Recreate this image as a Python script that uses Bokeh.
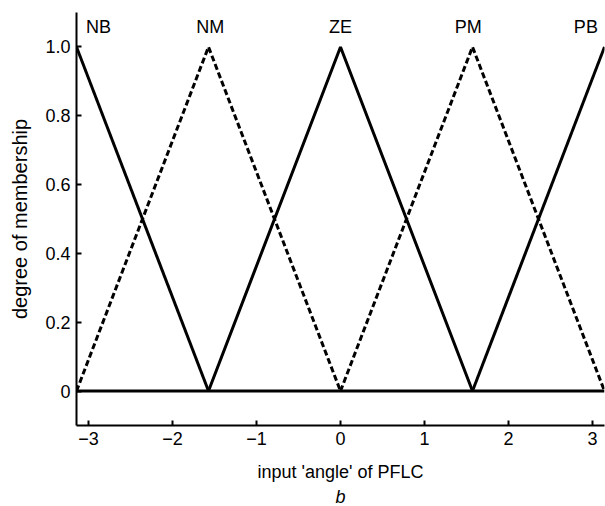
from bokeh.plotting import figure
from bokeh.models import Label, Range1d, FixedTicker, Title
from bokeh.embed import file_html
from bokeh.resources import INLINE

# membership function breakpoints (x) and degrees (y)
nb_x = [-3.1416, -1.5708]
nb_y = [1.0, 0.0]
nm_x = [-3.1416, -1.5708, 0.0]
nm_y = [0.0, 1.0, 0.0]
ze_x = [-1.5708, 0.0, 1.5708]
ze_y = [0.0, 1.0, 0.0]
pm_x = [0.0, 1.5708, 3.1416]
pm_y = [0.0, 1.0, 0.0]
pb_x = [1.5708, 3.1416]
pb_y = [0.0, 1.0]
base_x = [-3.1416, 3.1416]
base_y = [0.0, 0.0]

set_names = ["NB", "NM", "ZE", "PM", "PB"]
name_x = [-2.88, -1.55, 0.0, 1.52, 2.92]
name_y = 1.058

x_ticks = [-3, -2, -1, 0, 1, 2, 3]
x_tick_labels = ["\u22123", "\u22122", "\u22121", "0", "1", "2", "3"]
y_ticks = [0, 0.2, 0.4, 0.6, 0.8, 1.0]
y_tick_labels = ["0", "0.2", "0.4", "0.6", "0.8", "1.0"]

FONT = "Liberation Sans"
FS = "18px"

p = figure(width=605, height=506, output_backend="svg", toolbar_location=None,
           x_range=Range1d(-3.1416, 3.1416), y_range=Range1d(-0.1, 1.1),
           min_border_left=76, min_border_right=1, min_border_top=12,
           min_border_bottom=0)
p.outline_line_color = None
p.xgrid.visible = False
p.ygrid.visible = False

lw = 3
p.line(base_x, base_y, line_color="black", line_width=lw)
p.line(nb_x, nb_y, line_color="black", line_width=lw)
p.line(ze_x, ze_y, line_color="black", line_width=lw)
p.line(pb_x, pb_y, line_color="black", line_width=lw)
p.line(nm_x, nm_y, line_color="black", line_width=lw, line_dash="6 3")
p.line(pm_x, pm_y, line_color="black", line_width=lw, line_dash="6 3")

for nm, xx in zip(set_names, name_x):
    p.add_layout(Label(x=xx, y=name_y, text=nm, text_align="center",
                       text_baseline="middle", text_font=FONT,
                       text_font_size=FS, text_color="black"))

for ax in (p.xaxis[0], p.yaxis[0]):
    ax.axis_line_width = 2
    ax.axis_line_color = "black"
    ax.major_tick_in = 5
    ax.major_tick_out = 0
    ax.minor_tick_in = 0
    ax.minor_tick_out = 0
    ax.major_tick_line_width = 2
    ax.major_label_text_font = FONT
    ax.major_label_text_font_size = FS
    ax.major_label_text_color = "black"
    ax.axis_label_text_font = FONT
    ax.axis_label_text_font_size = FS
    ax.axis_label_text_font_style = "normal"
    ax.axis_label_text_color = "black"

p.xaxis.ticker = FixedTicker(ticks=x_ticks)
p.xaxis.major_label_overrides = dict(zip(x_ticks, x_tick_labels))
p.yaxis.ticker = FixedTicker(ticks=y_ticks)
p.yaxis.major_label_overrides = dict(zip(y_ticks, y_tick_labels))
p.xaxis.axis_label = "input 'angle' of PFLC"
p.yaxis.axis_label = "degree of membership"
p.yaxis.axis_label_text_font_size = "20px"
p.xaxis.major_label_standoff = 6
p.xaxis.axis_label_standoff = 14
p.yaxis.major_label_standoff = 6
p.yaxis.axis_label_standoff = 11

p.add_layout(Title(text="b", align="center", text_font=FONT,
                   text_font_size=FS, text_font_style="italic",
                   text_color="black", standoff=0, offset=0), "below")

open("out.html", "w").write(file_html(p, INLINE))
